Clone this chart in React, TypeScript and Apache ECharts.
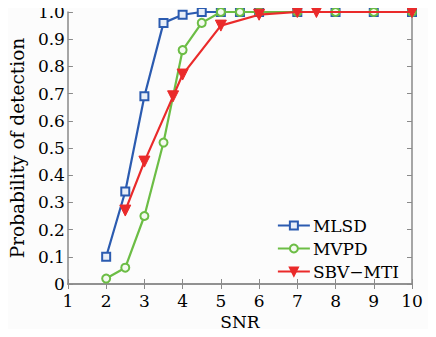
import React, { useEffect, useRef } from "react";
import * as echarts from "echarts";

const mlsdX = [2, 2.5, 3, 3.5, 4, 4.5, 5, 5.5, 6, 7, 8, 9, 10];
const mlsdY = [0.1, 0.34, 0.69, 0.96, 0.99, 1.0, 1.0, 1.0, 1.0, 1.0, 1.0, 1.0, 1.0];
const mvpdX = [2, 2.5, 3, 3.5, 4, 4.5, 5, 5.5, 6, 7, 8, 9, 10];
const mvpdY = [0.02, 0.06, 0.25, 0.52, 0.86, 0.96, 1.0, 1.0, 1.0, 1.0, 1.0, 1.0, 1.0];
const sbvX = [2.5, 3, 3.75, 4, 5, 6, 7, 7.5, 10];
const sbvY = [0.27, 0.45, 0.69, 0.77, 0.95, 0.99, 1.0, 1.0, 1.0];

const zip = (xs: number[], ys: number[]) => xs.map((x, i) => [x, ys[i]]);

const FONT = "DejaVu Serif";
const AXIS_COLOR = "#8a8a8a";

export default function App() {
  const ref = useRef<HTMLDivElement>(null);
  useEffect(() => {
    if (!ref.current) return;
    const chart = echarts.init(ref.current, null, { renderer: "svg" });
    const tickLabel = { fontFamily: FONT, fontSize: 17, color: "#000" };
    chart.setOption({
      animation: false,
      backgroundColor: "#fcfcfc",
      grid: { left: 66, right: 24, top: 12, bottom: 53 },
      legend: {
        right: 32,
        top: 212,
        orient: "vertical",
        itemWidth: 32,
        itemHeight: 10,
        itemGap: 6,
        textStyle: { fontFamily: FONT, fontSize: 17, color: "#000", padding: [0, 0, 0, -2] },
        data: ["MLSD", "MVPD", "SBV\u2212MTI"],
      },
      xAxis: [
        {
          type: "value",
          min: 1,
          max: 10,
          interval: 1,
          name: "SNR",
          nameLocation: "middle",
          nameGap: 29,
          nameTextStyle: { fontFamily: FONT, fontSize: 17, color: "#000" },
          axisLine: { lineStyle: { color: AXIS_COLOR, width: 1.5 } },
          axisTick: { inside: true, length: 5, lineStyle: { color: AXIS_COLOR } },
          axisLabel: { ...tickLabel, margin: 8 },
          splitLine: { show: false },
        },
        {
          type: "value",
          position: "top",
          min: 1,
          max: 10,
          interval: 1,
          axisLine: { show: true, lineStyle: { color: AXIS_COLOR, width: 1.5 } },
          axisTick: { inside: true, length: 5, lineStyle: { color: AXIS_COLOR } },
          axisLabel: { show: false },
          splitLine: { show: false },
        },
      ],
      yAxis: [
        {
          type: "value",
          min: 0,
          max: 1,
          interval: 0.1,
          name: "Probability of detection",
          nameLocation: "middle",
          nameGap: 36,
          nameTextStyle: { fontFamily: FONT, fontSize: 18.5, color: "#000" },
          axisLine: { show: true, lineStyle: { color: AXIS_COLOR, width: 1.5 } },
          axisTick: { show: true, inside: true, length: 5, lineStyle: { color: AXIS_COLOR } },
          axisLabel: {
            ...tickLabel,
            margin: 3,
            formatter: (v: number) => (v === 0 ? "0" : v.toFixed(1)),
          },
          splitLine: { show: false },
        },
        {
          type: "value",
          position: "right",
          min: 0,
          max: 1,
          interval: 0.1,
          axisLine: { show: true, lineStyle: { color: AXIS_COLOR, width: 1.5 } },
          axisTick: { show: true, inside: true, length: 5, lineStyle: { color: AXIS_COLOR } },
          axisLabel: { show: false },
          splitLine: { show: false },
        },
      ],
      series: [
        {
          name: "MLSD",
          type: "line",
          data: zip(mlsdX, mlsdY),
          symbol: "rect",
          symbolSize: 8,
          color: "#2b5bb0",
          lineStyle: { width: 2.2, color: "#2b5bb0" },
          itemStyle: { color: "#e8eef8", borderColor: "#2b5bb0", borderWidth: 2 },
          z: 2,
        },
        {
          name: "MVPD",
          type: "line",
          data: zip(mvpdX, mvpdY),
          symbol: "circle",
          symbolSize: 8,
          color: "#6cbd45",
          lineStyle: { width: 2.2, color: "#6cbd45" },
          itemStyle: { color: "#f4faf0", borderColor: "#6cbd45", borderWidth: 2 },
          z: 3,
        },
        {
          name: "SBV\u2212MTI",
          type: "line",
          data: zip(sbvX, sbvY),
          symbol: "triangle",
          symbolRotate: 180,
          symbolSize: 11,
          color: "#ea2a2a",
          lineStyle: { width: 2.2, color: "#ea2a2a" },
          itemStyle: { color: "#ea2a2a", borderColor: "#ea2a2a", borderWidth: 1 },
          z: 4,
        },
      ],
    });
    return () => chart.dispose();
  }, []);
  return <div ref={ref} style={{ width: 436, height: 337, margin: -8 }} />;
}
